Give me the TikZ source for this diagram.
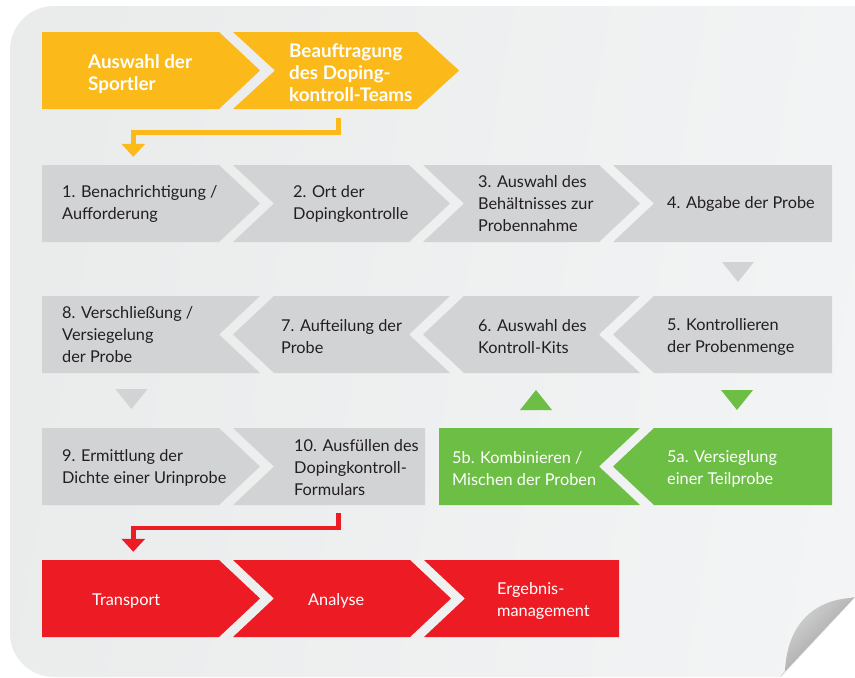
\documentclass[tikz,border=0pt]{standalone}
\usepackage{fontspec}
\setmainfont{Lato}
\usetikzlibrary{fit,calc,arrows.meta}

\definecolor{panelA}{HTML}{EAEBEB}
\definecolor{panelB}{HTML}{F3F4F5}
\definecolor{stepyellow}{HTML}{FBB91A}
\definecolor{stepgray}{HTML}{D1D3D4}
\definecolor{stepgreen}{HTML}{6DBE45}
\definecolor{stepred}{HTML}{ED1C24}
\definecolor{textdark}{HTML}{231F20}

% chevron box: style, name, left x, right x, top y, bottom y,
% horizontal offset of the left middle point, of the right middle point
\newcommand\chevbox[8]{%
  \pgfmathsetmacro\cyMid{(#5+#6)/2}%
  \fill[#1] (#3,#5) -- (#4,#5) -- ({#4+#8},\cyMid) -- (#4,#6) -- (#3,#6) -- ({#3+#7},\cyMid) -- cycle;
  \node[fit={(#3,#5) (#4,#6)}, inner sep=0pt] (#2) {};
}

\tikzset{
  lbl/.style={anchor=west, align=left, inner sep=0pt, text=textdark,
    font=\fontsize{16.3}{22}\selectfont},
  lblw/.style={lbl, text=white},
  lblb/.style={lbl, text=white, font=\bfseries\fontsize{18.8}{22}\selectfont},
  conn/.style={line width=5pt, line join=miter,
    -{Triangle[width=23pt,length=13pt]}},
}

\begin{document}
\begin{tikzpicture}[x=1pt,y=-1pt]
\useasboundingbox (0,0) rectangle (855,678);

% page
\shade[left color=panelA, right color=panelB, shading angle=80, rounded corners=44pt]
  (10,6) rectangle (900,677);
% folded corner
\fill[white] (780,679) -- (857,679) -- (857,596) -- cycle;
\shade[top color=gray!30, middle color=white!96!gray, bottom color=gray!85, shading angle=45]
  (780,677) -- (855,597) -- (850,598)
  .. controls (812,601) and (787,626) .. (785,671) -- cycle;

% start
\chevbox{stepyellow}{sel}{42}{219}{32}{109}{0}{41}
\chevbox{stepyellow}{team}{233}{417}{32}{109}{42}{42}
\node[lblb] (sel-t) at (88,74) {Auswahl der\\Sportler};
\node[lblb] (team-t) at (289,73) {Beauftragung\\des Doping-\\kontroll-Teams};

% steps 1 to 4
\chevbox{stepgray}{s1}{42}{219}{165}{242}{0}{41}
\chevbox{stepgray}{s2}{233}{409}{165}{242}{41}{41}
\chevbox{stepgray}{s3}{423}{599}{165}{242}{41}{41}
\chevbox{stepgray}{s4}{613}{832}{165}{242}{41}{0}
\node[lbl] (s1-t) at (62,204) {1. Benachrichtigung /\\Aufforderung};
\node[lbl] (s2-t) at (293,204) {2. Ort der\\Dopingkontrolle};
\node[lbl] (s3-t) at (478,204) {3. Auswahl des\\Behältnisses zur\\Probennahme};
\node[lbl] (s4-t) at (667,204) {4. Abgabe der Probe};

% steps 5 to 8
\chevbox{stepgray}{s8}{42}{260}{296}{373}{0}{-41}
\chevbox{stepgray}{s7}{274}{450}{296}{373}{-41}{-41}
\chevbox{stepgray}{s6}{464}{640}{296}{373}{-41}{-41}
\chevbox{stepgray}{s5}{654}{832}{296}{373}{-41}{0}
\node[lbl] (s8-t) at (62,335) {8. Verschließung /\\Versiegelung\\der Probe};
\node[lbl] (s7-t) at (281,337) {7. Aufteilung der\\Probe};
\node[lbl] (s6-t) at (478,337) {6. Auswahl des\\Kontroll-Kits};
\node[lbl] (s5-t) at (667,337) {5. Kontrollieren\\der Probenmenge};

% steps 9, 10, 5a, 5b
\chevbox{stepgray}{s9}{42}{219}{428}{505}{0}{41}
\chevbox{stepgray}{s10}{233}{425}{428}{505}{41}{0}
\chevbox{stepgreen}{s5b}{439}{640}{428}{505}{0}{-41}
\chevbox{stepgreen}{s5a}{654}{832}{428}{505}{-41}{0}
\node[lbl] (s9-t) at (62,468) {9. Ermittlung der\\Dichte einer Urinprobe};
\node[lbl] (s10-t) at (294,468) {10. Ausfüllen des\\Dopingkontroll-\\Formulars};
\node[lblw] (s5b-t) at (452,469) {5b. Kombinieren /\\Mischen der Proben};
\node[lblw] (s5a-t) at (667,469) {5a. Versieglung\\einer Teilprobe};

% after the control
\chevbox{stepred}{tr}{42}{219}{560}{637}{0}{41}
\chevbox{stepred}{an}{233}{410}{560}{637}{41}{41}
\chevbox{stepred}{er}{424}{619}{560}{637}{41}{0}
\node[lblw] (tr-t) at (92,601) {Transport};
\node[lblw] (an-t) at (308,601) {Analyse};
\node[lblw] (er-t) at (497,601) {Ergebnis-\\management};

% markers between the rows
\fill[stepgray] (722,262) -- (754,262) -- (738,282) -- cycle;
\fill[stepgray] (115.5,389) -- (147.5,389) -- (131.5,409) -- cycle;
\fill[stepgreen] (520,410) -- (552,410) -- (536,390) -- cycle;
\fill[stepgreen] (721,390) -- (753,390) -- (737,410) -- cycle;

% connectors
\draw[conn, stepyellow] ($(team.south west)+(105.5,9)$) |- ($(s1.north west)+(91.5,-32.5)$)
  -- ($(s1.north west)+(91.5,-8)$);
\draw[conn, stepred, line width=4.5pt] ($(s10.south west)+(105.5,8)$) |- ($(tr.north west)+(91.5,-32)$)
  -- ($(tr.north west)+(91.5,-8)$);
\end{tikzpicture}
\end{document}
